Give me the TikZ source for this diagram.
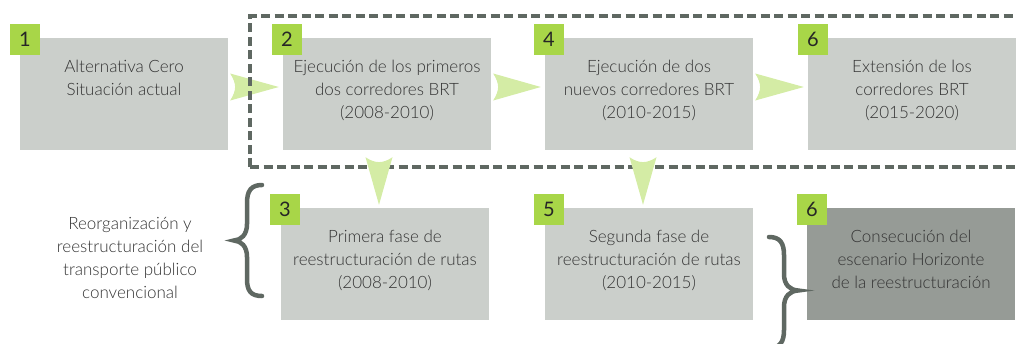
\documentclass[tikz,border=0pt]{standalone}
\usepackage{fontspec}
\setmainfont{Lato Light}
\newfontfamily\badgefont{Lato}
\usetikzlibrary{calc}
\definecolor{boxgray}{HTML}{CBCFCB}
\definecolor{boxdark}{HTML}{969B96}
\definecolor{badgegreen}{HTML}{A8D648}
\definecolor{arrgreen}{HTML}{D4ECA5}
\definecolor{linedark}{HTML}{5F6862}
\definecolor{txtgray}{HTML}{333333}
\tikzset{
  stagebox/.style={fill=boxgray, minimum width=208pt, minimum height=112pt, inner sep=0pt, draw=none},
  darkbox/.style={stagebox, fill=boxdark},
  badge/.style={fill=badgegreen, minimum width=30pt, minimum height=31pt, inner sep=0pt,
    font=\badgefont\fontsize{20}{20}\selectfont, text=black!85},
  boxtext/.style={anchor=north, align=center, inner sep=0pt, text=txtgray,
    font=\fontsize{17}{23.2}\selectfont},
  arr/.style={fill=arrgreen},
  dashframe/.style={draw=linedark, line width=3.5pt, dash pattern=on 9pt off 4.5pt},
  bracestyle/.style={draw=linedark, line width=4.5pt, line cap=round}
}
\newcommand\rarr[2]{\fill[arr] ($(#1.east)+(2,-20.5)$) -- ($(#2.west)+(-4,-7)$) -- ($(#1.east)+(2,6.5)$) .. controls ($(#1.east)+(8.5,-4)$) and ($(#1.east)+(8.5,-10)$) .. cycle;}
\newcommand\darr[3]{\fill[arr] ($(#1.south)+(#3-13.5,7)$) .. controls ($(#1.south)+(#3-4,13.5)$) and ($(#1.south)+(#3+4,13.5)$) .. ($(#1.south)+(#3+13.5,7)$) -- ($(#1.south |- #2.north)+(#3,-3)$) -- cycle;}
\begin{document}
\begin{tikzpicture}[x=1pt,y=-1pt]
\useasboundingbox (0,0) rectangle (1016,343);
% stage 1
\node[stagebox] (b1) at (124,94) {};
\node[badge] (n1) at ($(b1.north west)+(5,1.5)$) {1};
\node[boxtext] (t1) at ($(b1.north)+(0,22)$) {Alternativa Cero\\Situación actual};
% upper boxes
\node[stagebox] (b2) at (387,94) {};
\node[stagebox] (b4) at (649,94) {};
\node[stagebox] (b6) at (912,94) {};
% lower boxes
\node[stagebox] (b3) at (385,264) {};
\node[stagebox] (b5) at (649,264) {};
\node[darkbox] (b7) at (911,264) {};
% arrow 1 below frame
\rarr{b1}{b2}
% dashed frame
\draw[dashframe] (250,167) -- (250,16) -- (1030,16);
\draw[dashframe] (250,167) -- (1030,167);
% other arrows
\rarr{b2}{b4}
\rarr{b4}{b6}
\darr{b2}{b3}{-8}
\darr{b4}{b5}{-6}
% badges
\node[badge] (n2) at ($(b2.north west)+(4,1.5)$) {2};
\node[badge] (n4) at ($(b4.north west)+(4,1.5)$) {4};
\node[badge] (n6) at ($(b6.north west)+(5,1.5)$) {6};
\node[badge] (n3) at ($(b3.north west)+(4,1.5)$) {3};
\node[badge] (n5) at ($(b5.north west)+(4,1.5)$) {5};
\node[badge] (n7) at ($(b7.north west)+(5,1.5)$) {6};
% texts
\node[boxtext] (t2) at ($(b2.north)+(0,22)$) {Ejecución de los primeros\\dos corredores BRT\\(2008-2010)};
\node[boxtext] (t4) at ($(b4.north)+(0,22)$) {Ejecución de dos\\nuevos corredores BRT\\(2010-2015)};
\node[boxtext] (t6) at ($(b6.north)+(0,22)$) {Extensión de los\\corredores BRT\\(2015-2020)};
\node[boxtext] (t3) at ($(b3.north)+(0,22)$) {Primera fase de\\reestructuración de rutas\\(2008-2010)};
\node[boxtext] (t5) at ($(b5.north)+(0,22)$) {Segunda fase de\\reestructuración de rutas\\(2010-2015)};
\node[boxtext] (t7) at ($(b7.north)+(0,22)$) {Consecución del\\escenario Horizonte\\de la reestructuración};
% left label
\node[boxtext, anchor=center] (lab) at (130,258) {Reorganización y\\reestructuración del\\transporte público\\convencional};
% braces
\draw[bracestyle] (262,185) .. controls (251,185) and (247,191) .. (247,203) -- (247,224) .. controls (247,235) and (241,240) .. (234,240.5) .. controls (241,241) and (247,246) .. (247,257) -- (247,279) .. controls (247,291) and (251,296) .. (262,296);
\draw[bracestyle] (769,237) .. controls (780,237) and (784,243) .. (784,255) -- (784,274) .. controls (784,285) and (790,290) .. (798,290.5) .. controls (790,291) and (784,296) .. (784,307) -- (784,330) .. controls (784,342) and (780,348) .. (769,348);
\end{tikzpicture}
\end{document}
